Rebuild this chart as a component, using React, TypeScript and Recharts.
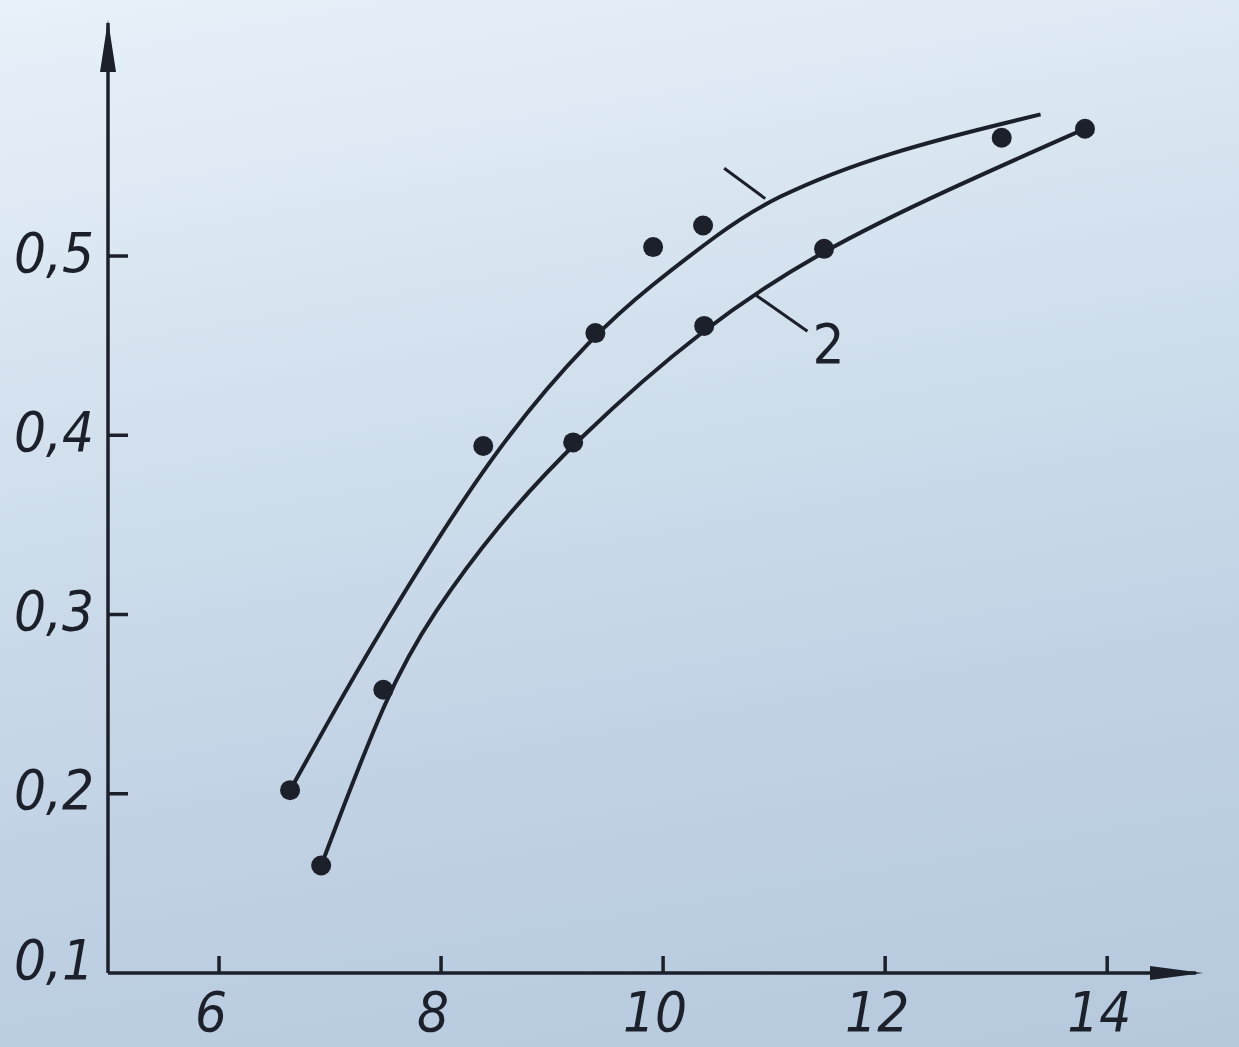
import React from 'react';
import { ComposedChart, Line, Scatter, XAxis, YAxis, ReferenceLine, ReferenceDot } from 'recharts';

const xTicks = [6, 8, 10, 12, 14];
const yTicks = [0.1, 0.2, 0.3, 0.4, 0.5];

// curve 1 (upper)
const curve1 = [
  { x: 6.64, y: 0.202 },
  { x: 6.91, y: 0.232 },
  { x: 7.42, y: 0.288 },
  { x: 8.49, y: 0.394 },
  { x: 9.39, y: 0.457 },
  { x: 9.88, y: 0.483 },
  { x: 10.51, y: 0.513 },
  { x: 10.96, y: 0.532 },
  { x: 12.0, y: 0.558 },
  { x: 13.4, y: 0.579 },
];

// curve 2 (lower)
const curve2 = [
  { x: 6.92, y: 0.16 },
  { x: 7.52, y: 0.258 },
  { x: 7.93, y: 0.301 },
  { x: 8.5, y: 0.349 },
  { x: 9.19, y: 0.396 },
  { x: 10.37, y: 0.461 },
  { x: 11.45, y: 0.504 },
  { x: 12.56, y: 0.537 },
  { x: 13.8, y: 0.571 },
];

// measured points
const points1 = [
  { x: 6.64, y: 0.202 },
  { x: 8.38, y: 0.394 },
  { x: 9.39, y: 0.457 },
  { x: 9.91, y: 0.505 },
  { x: 10.36, y: 0.517 },
  { x: 13.05, y: 0.566 },
];
const points2 = [
  { x: 6.92, y: 0.16 },
  { x: 7.48, y: 0.258 },
  { x: 9.19, y: 0.396 },
  { x: 10.37, y: 0.461 },
  { x: 11.45, y: 0.504 },
  { x: 13.8, y: 0.571 },
];

const W = 1239;
const H = 1047;
const INK = '#1b202b';
const FONT = "'Liberation Sans Narrow', 'DejaVu Sans Condensed', 'Liberation Sans', sans-serif";
const LABEL_SIZE = 56;

const comma = (v: number): string => v.toFixed(1).replace('.', ',');

const YTick = (p: any) => {
  const { x, y, payload } = p;
  const v = payload.value as number;
  const dy = v === 0.1 ? -14 : -4;
  return (
    <g>
      {v !== 0.1 && <line x1={x} y1={y} x2={x + 20} y2={y} stroke={INK} strokeWidth={3.5} />}
      <text
        x={x - 14}
        y={y + dy}
        textAnchor="end"
        dominantBaseline="central"
        fontFamily={FONT}
        fontStyle="italic"
        fontSize={LABEL_SIZE}
        fill={INK}
      >
        {comma(v)}
      </text>
    </g>
  );
};

const XTick = (p: any) => {
  const { x, y, payload } = p;
  return (
    <g>
      <line x1={x} y1={y} x2={x} y2={y - 17} stroke={INK} strokeWidth={3.5} />
      <text
        x={x - 8}
        y={y + 38}
        textAnchor="middle"
        dominantBaseline="central"
        fontFamily={FONT}
        fontStyle="italic"
        fontSize={LABEL_SIZE}
        fill={INK}
      >
        {payload.value}
      </text>
    </g>
  );
};

const Dot = (p: any) => <circle cx={p.cx} cy={p.cy} r={10} fill={INK} />;

export default function App() {
  return (
    <div
      style={{
        position: 'fixed',
        left: 0,
        top: 0,
        width: W,
        height: H,
        background: 'linear-gradient(170deg, #e8f1fa 0%, #d3e1ee 35%, #c0d1e4 70%, #b6c8dc 100%)',
      }}
    >
      <ComposedChart width={W} height={H} margin={{ top: 23, right: 43, bottom: 0, left: 0 }}>
        <XAxis
          dataKey="x"
          type="number"
          domain={[5, 14.8]}
          ticks={xTicks}
          allowDataOverflow
          height={74}
          axisLine={{ stroke: INK, strokeWidth: 3.5 }}
          tickLine={false}
          tickSize={0}
          tickMargin={0}
          tick={<XTick />}
        />
        <YAxis
          dataKey="y"
          type="number"
          domain={[0.1, 0.63]}
          ticks={yTicks}
          allowDataOverflow
          width={108}
          axisLine={{ stroke: INK, strokeWidth: 3.5 }}
          tickLine={false}
          tickSize={0}
          tickMargin={0}
          tick={<YTick />}
        />
        <Line data={curve1} dataKey="y" type="basis" stroke={INK} strokeWidth={4} dot={false} activeDot={false} isAnimationActive={false} />
        <Line data={curve2} dataKey="y" type="basis" stroke={INK} strokeWidth={4} dot={false} activeDot={false} isAnimationActive={false} />
        <Scatter data={points1} dataKey="y" shape={Dot} isAnimationActive={false} />
        <Scatter data={points2} dataKey="y" shape={Dot} isAnimationActive={false} />
        {/* leader lines for the curve numbers */}
        <ReferenceLine segment={[{ x: 10.55, y: 0.549 }, { x: 10.92, y: 0.532 }]} stroke={INK} strokeWidth={3} />
        <ReferenceLine segment={[{ x: 10.84, y: 0.478 }, { x: 11.3, y: 0.458 }]} stroke={INK} strokeWidth={3} />
        <ReferenceDot
          x={11.49}
          y={0.451}
          r={0}
          shape={(p: any) => (
            <text x={p.cx} y={p.cy} textAnchor="middle" dominantBaseline="central" fontFamily={FONT} fontSize={LABEL_SIZE} fill={INK}>
              2
            </text>
          )}
        />
      </ComposedChart>
      {/* axis arrowheads */}
      <svg width={W} height={H} style={{ position: 'absolute', left: 0, top: 0, pointerEvents: 'none' }}>
        <polygon points="1150,966 1203,973 1150,980" fill={INK} />
        <polygon points="108,20 116,72 100,72" fill={INK} />
      </svg>
    </div>
  );
}
